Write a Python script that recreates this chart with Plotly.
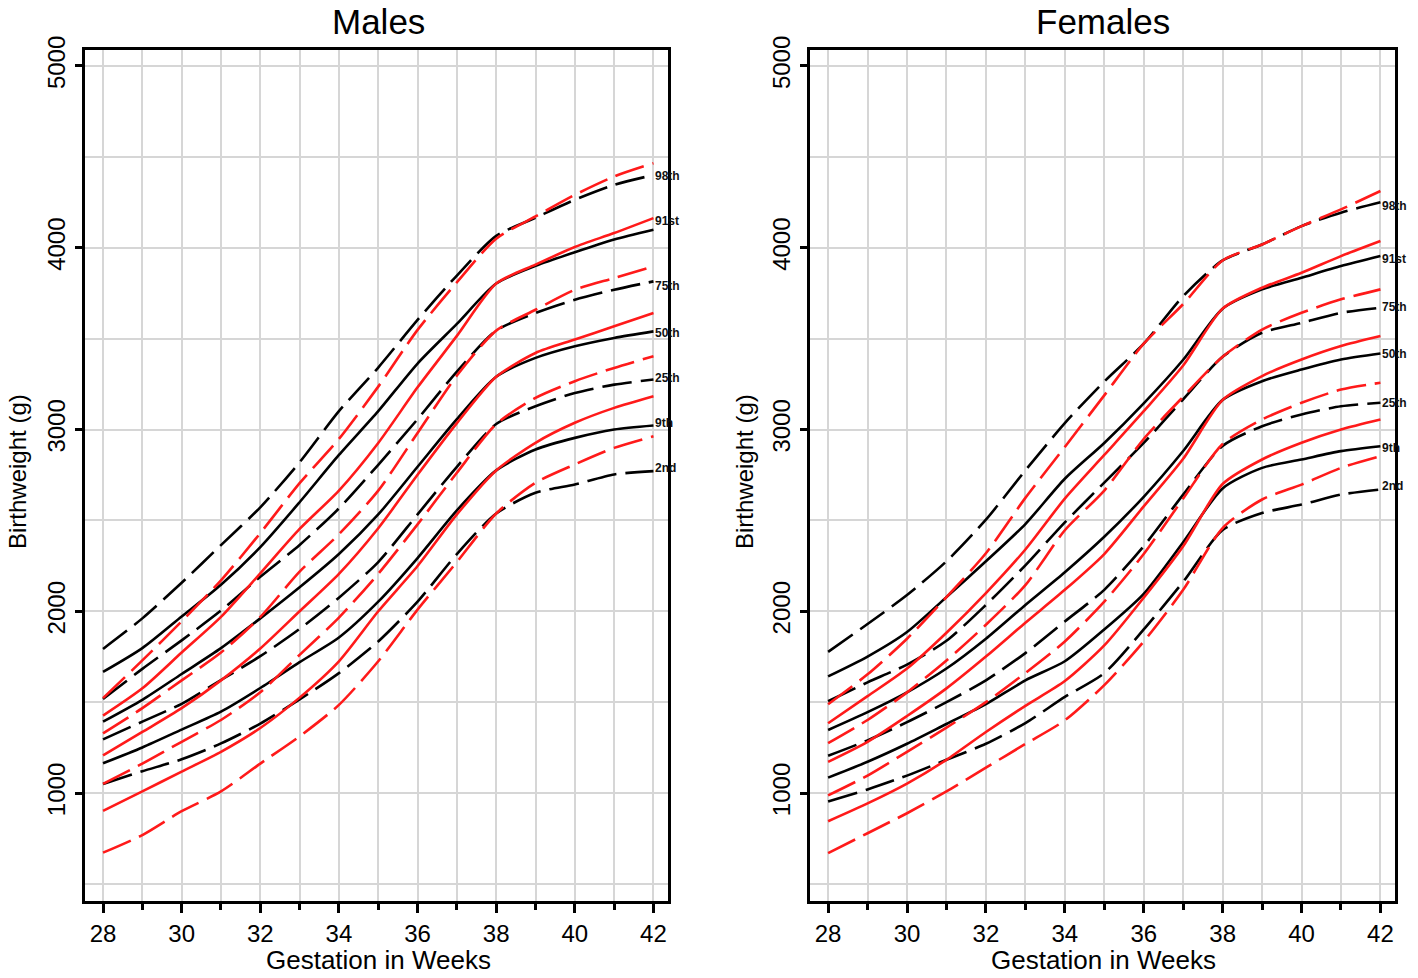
import plotly.graph_objects as go

weeks = list(range(28, 43))
centiles = ["2nd", "9th", "25th", "50th", "75th", "91st", "98th"]
solid_centiles = ["9th", "50th", "91st"]

# ---------------- Males: black curves ----------------
m_black_2nd = [1050, 1120, 1186, 1273, 1382, 1515, 1660, 1834, 2053, 2315, 2538, 2652, 2698, 2753, 2771]
m_black_9th = [1164, 1251, 1349, 1448, 1578, 1720, 1856, 2053, 2293, 2555, 2775, 2890, 2954, 3000, 3022]
m_black_25th = [1295, 1393, 1491, 1622, 1753, 1903, 2075, 2271, 2533, 2795, 3030, 3128, 3201, 3247, 3275]
m_black_50th = [1393, 1513, 1655, 1797, 1961, 2132, 2315, 2533, 2795, 3057, 3290, 3394, 3458, 3504, 3540]
m_black_75th = [1517, 1683, 1840, 2004, 2190, 2365, 2566, 2806, 3057, 3319, 3544, 3641, 3714, 3769, 3815]
m_black_91st = [1666, 1797, 1971, 2146, 2353, 2600, 2860, 3101, 3363, 3581, 3803, 3900, 3975, 4045, 4099]
m_black_98th = [1793, 1961, 2157, 2364, 2572, 2820, 3101, 3341, 3603, 3847, 4065, 4165, 4264, 4346, 4400]

# ---------------- Males: red curves ----------------
m_red_2nd = [672, 769, 900, 1009, 1162, 1312, 1485, 1725, 2009, 2271, 2538, 2707, 2808, 2899, 2963]
m_red_9th = [902, 1009, 1118, 1227, 1358, 1525, 1725, 2000, 2249, 2533, 2775, 2927, 3037, 3119, 3183]
m_red_25th = [1050, 1162, 1282, 1402, 1555, 1760, 1965, 2206, 2478, 2762, 3030, 3174, 3266, 3339, 3403]
m_red_50th = [1207, 1336, 1467, 1620, 1795, 2000, 2206, 2457, 2751, 3035, 3290, 3421, 3495, 3568, 3641]
m_red_75th = [1328, 1467, 1620, 1773, 1969, 2218, 2424, 2664, 2981, 3297, 3544, 3659, 3769, 3833, 3897]
m_red_91st = [1426, 1576, 1773, 1969, 2209, 2453, 2664, 2926, 3232, 3515, 3803, 3907, 4004, 4081, 4163]
m_red_98th = [1522, 1730, 1945, 2170, 2430, 2705, 2948, 3236, 3548, 3810, 4050, 4172, 4291, 4392, 4465]

# ---------------- Females: black curves ----------------
f_black_2nd = [954, 1020, 1096, 1183, 1271, 1385, 1529, 1660, 1900, 2162, 2447, 2541, 2587, 2642, 2670]
f_black_9th = [1085, 1172, 1271, 1380, 1489, 1620, 1725, 1900, 2096, 2380, 2676, 2789, 2835, 2881, 2908]
f_black_25th = [1205, 1290, 1390, 1500, 1620, 1770, 1944, 2118, 2358, 2642, 2910, 3018, 3083, 3128, 3147]
f_black_50th = [1347, 1445, 1554, 1685, 1849, 2035, 2215, 2410, 2630, 2882, 3163, 3266, 3330, 3385, 3418]
f_black_75th = [1505, 1609, 1707, 1838, 2035, 2253, 2489, 2708, 2926, 3166, 3400, 3532, 3587, 3642, 3670]
f_black_91st = [1642, 1751, 1886, 2078, 2275, 2480, 2729, 2926, 3144, 3384, 3665, 3771, 3835, 3899, 3954]
f_black_98th = [1777, 1930, 2089, 2275, 2504, 2775, 3035, 3264, 3472, 3734, 3930, 4018, 4119, 4193, 4250]

# ---------------- Females: red curves ----------------
f_red_2nd = [670, 779, 889, 1009, 1140, 1270, 1400, 1594, 1834, 2118, 2458, 2615, 2697, 2789, 2853]
f_red_9th = [845, 943, 1052, 1183, 1336, 1480, 1616, 1812, 2075, 2358, 2700, 2835, 2927, 3000, 3055]
f_red_25th = [987, 1096, 1227, 1360, 1500, 1660, 1834, 2053, 2315, 2620, 2920, 3055, 3147, 3220, 3257]
f_red_50th = [1172, 1282, 1424, 1576, 1751, 1937, 2118, 2315, 2577, 2839, 3163, 3294, 3385, 3459, 3514]
f_red_75th = [1275, 1402, 1554, 1729, 1926, 2144, 2446, 2664, 2948, 3180, 3400, 3550, 3642, 3716, 3771]
f_red_91st = [1384, 1533, 1685, 1882, 2100, 2340, 2620, 2860, 3101, 3352, 3665, 3780, 3862, 3954, 4037]
f_red_98th = [1489, 1653, 1849, 2078, 2319, 2624, 2904, 3188, 3472, 3690, 3930, 4018, 4119, 4211, 4312]

# centile label positions (y) at the right edge
m_label_y = [2786, 3038, 3286, 3533, 3791, 4148, 4396]
f_label_y = [2692, 2901, 3148, 3418, 3676, 3940, 4231]

panels = [
    dict(name="Males", xa="x", ya="y",
         black=[m_black_2nd, m_black_9th, m_black_25th, m_black_50th, m_black_75th, m_black_91st, m_black_98th],
         red=[m_red_2nd, m_red_9th, m_red_25th, m_red_50th, m_red_75th, m_red_91st, m_red_98th],
         labels_y=m_label_y),
    dict(name="Females", xa="x2", ya="y2",
         black=[f_black_2nd, f_black_9th, f_black_25th, f_black_50th, f_black_75th, f_black_91st, f_black_98th],
         red=[f_red_2nd, f_red_9th, f_red_25th, f_red_50th, f_red_75th, f_red_91st, f_red_98th],
         labels_y=f_label_y),
]

DASH = "30px,9px"
BLACK = "#000000"
RED = "#ff1a1a"

fig = go.Figure()
for p in panels:
    for colour, series in ((BLACK, p["black"]), (RED, p["red"])):
        for c, vals in zip(centiles, series):
            fig.add_trace(go.Scatter(
                x=weeks, y=vals, mode="lines", xaxis=p["xa"], yaxis=p["ya"],
                line=dict(color=colour, width=2.6, shape="spline", smoothing=0.7,
                          dash="solid" if c in solid_centiles else DASH),
                showlegend=False, hoverinfo="skip"))

FONT = "Liberation Sans, Arial, sans-serif"
GRID = "#d6d6d6"
Y_DOMAIN = [0.0787, 0.9489]

def xaxis_cfg(domain, anchor):
    return dict(domain=domain, anchor=anchor, range=[27.54, 42.37], automargin=False,
                tickvals=list(range(28, 43, 2)), ticks="outside", ticklen=9, tickwidth=3,
                tickcolor="black", showgrid=True, gridcolor=GRID, gridwidth=2,
                minor=dict(dtick=1, tick0=28, ticks="outside", ticklen=6, tickwidth=2.5,
                           tickcolor="black", showgrid=True, gridcolor=GRID, gridwidth=2),
                showline=True, mirror=True, linecolor="black", linewidth=3,
                tickfont=dict(family=FONT, size=24, color="black"), zeroline=False)

def yaxis_cfg(anchor):
    return dict(domain=Y_DOMAIN, anchor=anchor, range=[406, 5088], automargin=False,
                tickvals=[1000, 2000, 3000, 4000, 5000], tickangle=-90,
                ticks="outside", ticklen=7, tickwidth=3, tickcolor="black",
                showgrid=True, gridcolor=GRID, gridwidth=2,
                minor=dict(dtick=500, tick0=0, ticks="", showgrid=True, gridcolor=GRID, gridwidth=2),
                showline=True, mirror=True, linecolor="black", linewidth=3,
                tickfont=dict(family=FONT, size=24, color="black"), zeroline=False)

fig.update_layout(
    width=1418, height=978, margin=dict(l=0, r=0, t=0, b=0, autoexpand=False),
    paper_bgcolor="white", plot_bgcolor="white", showlegend=False,
    xaxis=xaxis_cfg([0.0599, 0.4711], "y"),
    yaxis=yaxis_cfg("x"),
    xaxis2=xaxis_cfg([0.5712, 0.9838], "y2"),
    yaxis2=yaxis_cfg("x2"),
)

ann = []
titles = [("Males", 0.2666, 0.0127, 0.2666), ("Females", 0.7779, 0.5254, 0.7779)]
for (t, tx, ylx, gx), p in zip(titles, panels):
    ann.append(dict(text=t, x=tx, y=0.9785, xref="paper", yref="paper", showarrow=False,
                    xanchor="center", yanchor="middle", font=dict(family=FONT, size=35, color="black")))
    ann.append(dict(text="Birthweight (g)", x=ylx, y=0.5174, xref="paper", yref="paper",
                    showarrow=False, textangle=-90, xanchor="center", yanchor="middle",
                    font=dict(family=FONT, size=24, color="black")))
    ann.append(dict(text="Gestation in Weeks", x=gx, y=0.0184, xref="paper", yref="paper",
                    showarrow=False, xanchor="center", yanchor="middle",
                    font=dict(family=FONT, size=26, color="black")))
    for c, ly in zip(centiles, p["labels_y"]):
        ann.append(dict(text="<b>" + c + "</b>", x=41.98, y=ly, xref=p["xa"], yref=p["ya"],
                        showarrow=False, xanchor="left", yanchor="middle",
                        font=dict(family=FONT, size=12, color="#111111")))
fig.update_layout(annotations=ann)

fig.write_html("out.html", config={"displayModeBar": False},
               post_script="document.body.style.margin='0px';")
